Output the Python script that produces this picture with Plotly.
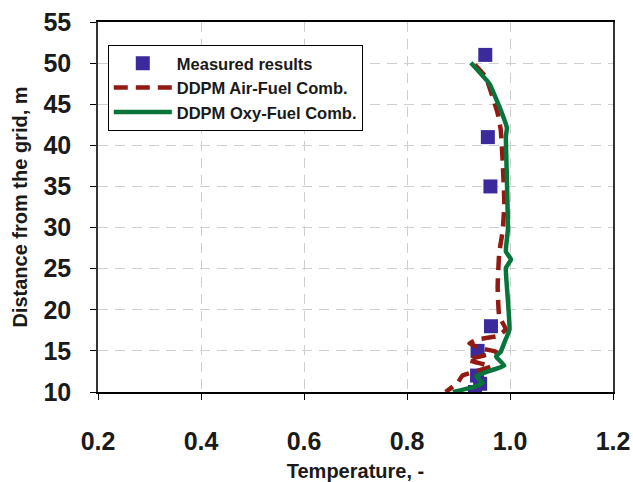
import plotly.graph_objects as go

# Measured results
meas_temp = [0.952, 0.957, 0.962, 0.963, 0.937, 0.936, 0.942, 0.932]
meas_dist = [51, 41, 35, 18, 15, 12, 11, 10]

# DDPM Air-Fuel Comb.
air_temp = [0.932, 0.953, 0.976, 0.982, 0.986, 0.989, 0.986, 0.979, 0.976, 0.979,
            0.992, 0.976, 0.937, 0.921, 0.944, 0.973, 0.947, 0.918, 0.963, 0.908,
            0.898, 0.875]
air_dist = [49.8, 48.3, 43.9, 41.9, 37.8, 33.0, 29.7, 26.9, 22.8, 19.2,
            17.6, 16.8, 16.4, 15.9, 15.3, 14.9, 14.4, 13.9, 13.1, 12.0,
            11.1, 10.0]

# DDPM Oxy-Fuel Comb.
oxy_temp = [0.924, 0.960, 0.982, 0.994, 0.992, 0.994, 0.996, 0.992, 1.002, 0.992,
            0.994, 0.999, 0.989, 0.982, 0.973, 0.989, 0.957, 0.934, 0.947, 0.934,
            0.889]
oxy_dist = [50.05, 47.5, 44.3, 42.1, 41.1, 35.8, 29.8, 27.1, 26.1, 25.1,
            22.8, 17.6, 16.0, 14.9, 14.3, 13.2, 12.5, 11.9, 11.1, 10.7,
            10.0]

x_ticks = [0.2, 0.4, 0.6, 0.8, 1.0, 1.2]
x_tick_labels = ["0.2", "0.4", "0.6", "0.8", "1.0", "1.2"]
y_ticks = [10, 15, 20, 25, 30, 35, 40, 45, 50, 55]

FONT = "Liberation Sans, Arial, sans-serif"

fig = go.Figure()
fig.add_trace(go.Scatter(
    x=meas_temp, y=meas_dist, mode="markers", name="Measured results",
    marker=dict(symbol="square", size=14, color="#3A2A9C"),
))
fig.add_trace(go.Scatter(
    x=air_temp, y=air_dist, mode="lines", name="DDPM Air-Fuel Comb.",
    line=dict(color="#931A12", width=4.5, dash="14px,8px", shape="spline", smoothing=0.3),
))
fig.add_trace(go.Scatter(
    x=oxy_temp, y=oxy_dist, mode="lines", name="DDPM Oxy-Fuel Comb.",
    line=dict(color="#07743A", width=4.5, shape="spline", smoothing=0.3),
))

fig.update_layout(
    width=633, height=482,
    margin=dict(l=98, r=20, t=22, b=90),
    paper_bgcolor="white", plot_bgcolor="white",
    font=dict(family=FONT, color="#1a1a1a"),
    showlegend=True,
    legend=dict(
        x=0.019, y=0.938, xanchor="left", yanchor="top",
        bgcolor="white", bordercolor="black", borderwidth=1,
        font=dict(family=FONT, size=16.5, color="#1a1a1a", weight="bold"),
        itemwidth=58, tracegroupgap=0,
    ),
    xaxis=dict(
        range=[0.2, 1.2], tickvals=x_ticks, ticktext=x_tick_labels,
        showgrid=True, gridcolor="#cfcfcf", griddash="10px,7px", gridwidth=1,
        showline=True, linecolor="black", linewidth=1.5, mirror=True,
        ticks="outside", ticklen=6, tickcolor="black",
        tickfont=dict(family=FONT, size=25, weight="bold"),
        ticklabelstandoff=20, automargin=False,
        zeroline=False,
        title=dict(text="Temperature, -", font=dict(family=FONT, size=20, weight="bold"), standoff=22),
    ),
    yaxis=dict(
        range=[10, 55], tickvals=y_ticks,
        showgrid=True, gridcolor="#cfcfcf", griddash="10px,7px", gridwidth=1,
        showline=True, linecolor="#333333", linewidth=1.5, mirror=True,
        ticks="outside", ticklen=6, tickcolor="black",
        tickfont=dict(family=FONT, size=25, weight="bold"),
        ticklabelstandoff=14, automargin=False,
        zeroline=False,
        title=dict(text="Distance from the grid, m", font=dict(family=FONT, size=20, weight="bold"), standoff=10),
    ),
)

fig.write_html(
    "out.html",
    config={"displayModeBar": False},
    post_script="document.body.style.margin='0';document.body.style.overflow='hidden';",
)
